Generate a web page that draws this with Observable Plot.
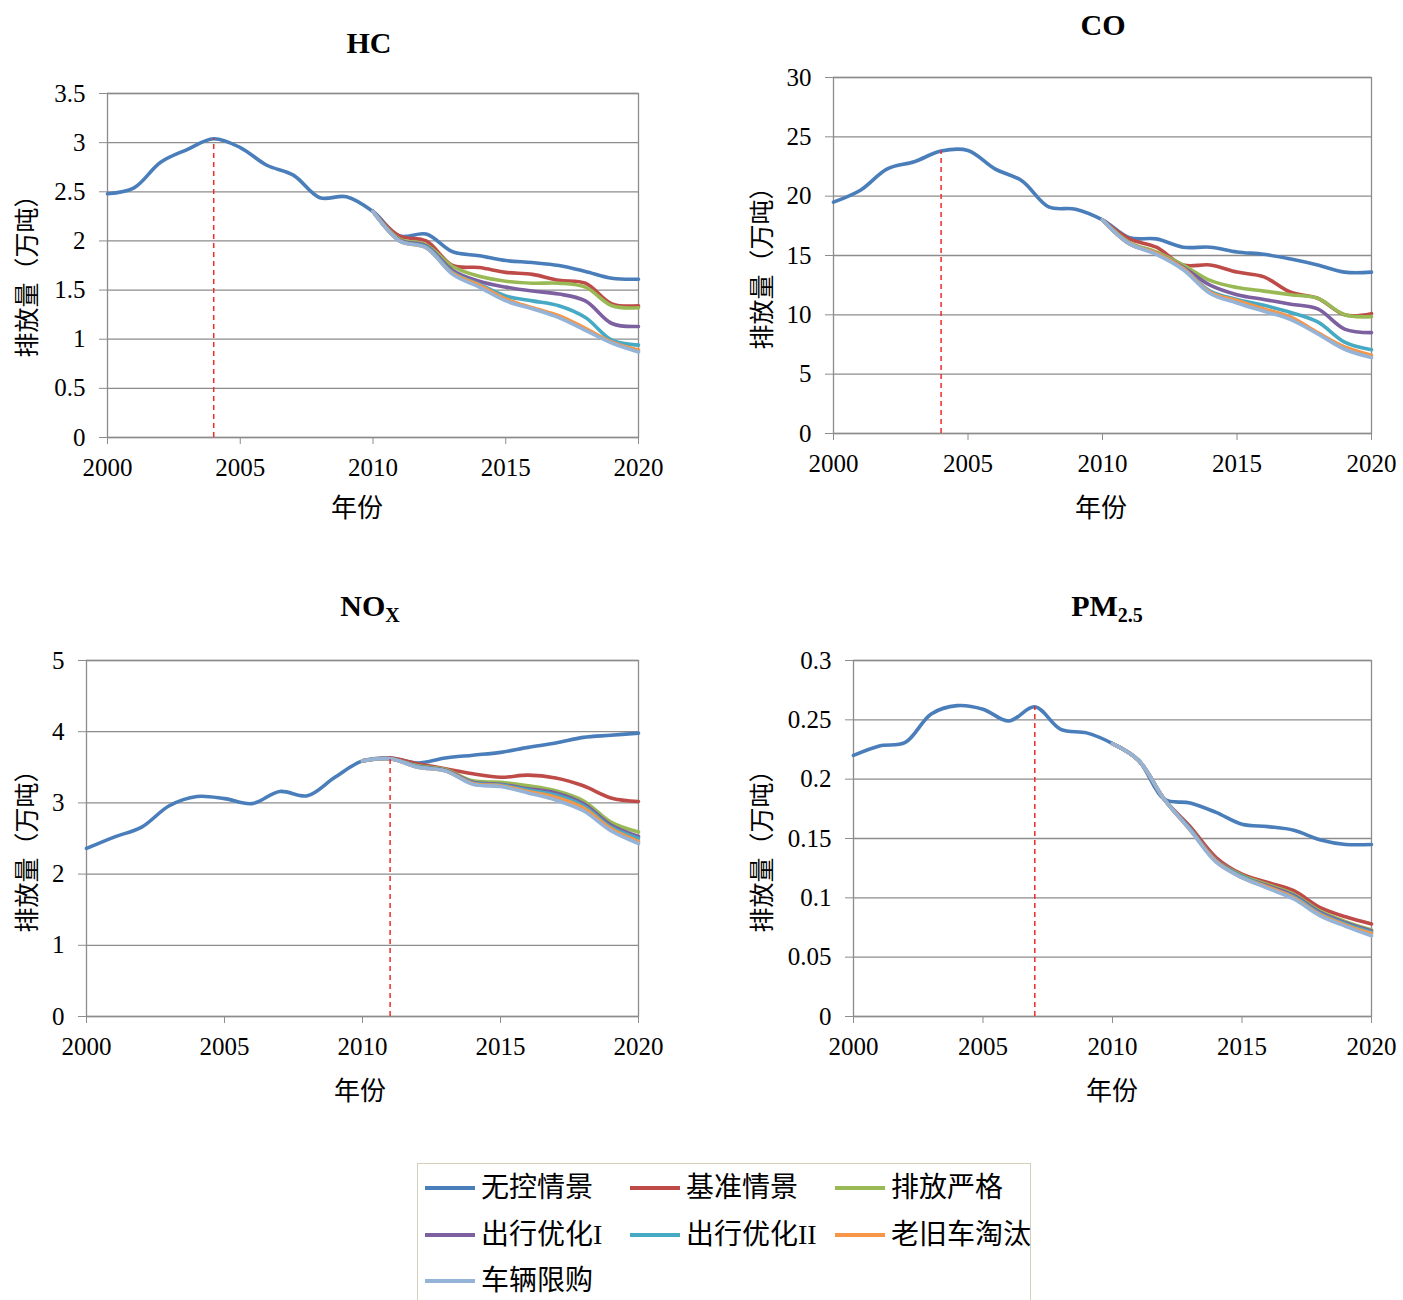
<!DOCTYPE html>
<html>
<head>
<meta charset="utf-8">
<script src="https://cdn.jsdelivr.net/npm/d3@7"></script>
<script src="https://cdn.jsdelivr.net/npm/@observablehq/plot@0.6"></script>
<style>
  html, body { margin: 0; padding: 0; background: #fff; }
  #page { position: relative; width: 1403px; height: 1300px; overflow: hidden; background: #fff;
          font-family: "Liberation Serif", "Times New Roman", "Noto Sans CJK SC", serif; color: #000; }
  .panel { position: absolute; }
  .panel svg text { font-family: "Liberation Serif", "Times New Roman", serif; }
  .title { position: absolute; transform: translate(-50%, -50%); font-weight: bold; font-size: 30px; white-space: nowrap; }
  .title sub { font-size: 20px; vertical-align: -6px; }
  .xlab { position: absolute; transform: translate(-50%, -50%); font-size: 26px; font-family: "Noto Sans CJK SC", sans-serif; white-space: nowrap; }
  .ylab { position: absolute; transform: translate(-50%, -50%) rotate(-90deg); font-size: 25px; font-family: "Noto Sans CJK SC", sans-serif; white-space: nowrap; }
  #legend { position: absolute; left: 417px; top: 1163px; width: 614px; height: 150px; border: 1.5px solid #d4cfb8; box-sizing: border-box; }
  .item { position: absolute; display: flex; align-items: center; font-size: 28px; line-height: 1; white-space: nowrap;
          font-family: "Liberation Serif", "Noto Sans CJK SC", serif; }
  .item span { line-height: 1; }
  .item .sw { width: 50px; height: 3.5px; margin-right: 6px; }
</style>
</head>
<body>
<div id="page"></div>
<script>
// Years on the horizontal axis
const years = d3.range(2000, 2021);
const scenarioYears = d3.range(2010, 2021);

// Scenario names and their line colours
const seriesNames = ["无控情景", "基准情景", "排放严格", "出行优化I", "出行优化II", "老旧车淘汰", "车辆限购"];
const seriesColors = ["#4a7ebb", "#be4b48", "#98b954", "#7d60a0", "#46aac5", "#f79646", "#95b3d7"];

// HC emissions (万吨)
const hcUncontrolled = [2.48, 2.54, 2.80, 2.93, 3.04, 2.95, 2.77, 2.67, 2.44, 2.45, 2.30, 2.05, 2.07, 1.89, 1.85, 1.80, 1.78, 1.75, 1.69, 1.62, 1.61];
const hcBaseline   = [2.30, 2.05, 2.00, 1.75, 1.73, 1.68, 1.66, 1.60, 1.57, 1.36, 1.34];
const hcStrict     = [2.30, 2.02, 1.96, 1.74, 1.64, 1.59, 1.57, 1.57, 1.53, 1.34, 1.32];
const hcTravel1    = [2.30, 2.01, 1.95, 1.70, 1.59, 1.53, 1.49, 1.46, 1.39, 1.16, 1.13];
const hcTravel2    = [2.30, 2.00, 1.94, 1.68, 1.56, 1.44, 1.39, 1.34, 1.22, 0.99, 0.94];
const hcScrappage  = [2.30, 2.00, 1.93, 1.67, 1.55, 1.41, 1.32, 1.24, 1.11, 0.97, 0.89];
const hcPurchase   = [2.30, 2.00, 1.93, 1.66, 1.53, 1.39, 1.31, 1.22, 1.09, 0.96, 0.87];

// CO emissions (万吨)
const coUncontrolled = [19.5, 20.5, 22.3, 22.9, 23.8, 23.85, 22.3, 21.3, 19.1, 18.9, 18.0, 16.5, 16.4, 15.7, 15.7, 15.3, 15.1, 14.7, 14.2, 13.6, 13.6];
const coBaseline   = [18.0, 16.4, 15.7, 14.2, 14.2, 13.6, 13.2, 11.9, 11.4, 10.0, 10.1];
const coStrict     = [18.0, 16.1, 15.3, 14.2, 12.9, 12.3, 12.0, 11.7, 11.4, 10.0, 9.85];
const coTravel1    = [18.0, 16.0, 15.2, 14.0, 12.5, 11.7, 11.3, 10.9, 10.5, 8.8, 8.5];
const coTravel2    = [18.0, 16.0, 15.2, 13.9, 12.0, 11.3, 10.8, 10.2, 9.4, 7.7, 7.05];
const coScrappage  = [18.0, 16.0, 15.2, 13.9, 11.9, 11.2, 10.5, 9.8, 8.5, 7.3, 6.6];
const coPurchase   = [18.0, 16.0, 15.1, 13.8, 11.8, 11.0, 10.3, 9.6, 8.4, 7.1, 6.4];

// NOx emissions (万吨)
const noxUncontrolled = [2.36, 2.52, 2.66, 2.96, 3.09, 3.06, 2.99, 3.16, 3.10, 3.36, 3.59, 3.63, 3.56, 3.63, 3.67, 3.71, 3.78, 3.84, 3.92, 3.95, 3.98];
const noxBaseline  = [3.59, 3.63, 3.55, 3.48, 3.41, 3.36, 3.39, 3.35, 3.24, 3.07, 3.02];
const noxStrict    = [3.59, 3.62, 3.52, 3.47, 3.31, 3.29, 3.24, 3.17, 3.03, 2.73, 2.59];
const noxTravel1   = [3.59, 3.62, 3.51, 3.46, 3.29, 3.26, 3.20, 3.14, 2.99, 2.69, 2.53];
const noxTravel2   = [3.59, 3.62, 3.51, 3.45, 3.28, 3.25, 3.18, 3.11, 2.96, 2.66, 2.50];
const noxScrappage = [3.59, 3.62, 3.50, 3.45, 3.27, 3.24, 3.16, 3.08, 2.93, 2.64, 2.46];
const noxPurchase  = [3.59, 3.62, 3.50, 3.45, 3.26, 3.23, 3.14, 3.04, 2.89, 2.61, 2.43];

// PM2.5 emissions (万吨)
const pmUncontrolled = [0.220, 0.228, 0.231, 0.255, 0.262, 0.259, 0.249, 0.261, 0.242, 0.239, 0.230, 0.216, 0.183, 0.180, 0.172, 0.162, 0.160, 0.157, 0.149, 0.145, 0.145];
const pmBaseline   = [0.230, 0.216, 0.183, 0.160, 0.134, 0.120, 0.113, 0.106, 0.092, 0.084, 0.078];
const pmStrict     = [0.230, 0.216, 0.183, 0.158, 0.132, 0.119, 0.111, 0.103, 0.089, 0.080, 0.073];
const pmTravel1    = [0.230, 0.216, 0.183, 0.158, 0.132, 0.118, 0.110, 0.102, 0.088, 0.079, 0.072];
const pmTravel2    = [0.230, 0.216, 0.183, 0.158, 0.131, 0.118, 0.109, 0.101, 0.087, 0.078, 0.071];
const pmScrappage  = [0.230, 0.216, 0.183, 0.157, 0.131, 0.117, 0.109, 0.100, 0.086, 0.077, 0.070];
const pmPurchase   = [0.230, 0.216, 0.183, 0.157, 0.130, 0.117, 0.108, 0.099, 0.085, 0.076, 0.068];

// Y-axis tick values per pollutant
const hcTicks = [0, 0.5, 1, 1.5, 2, 2.5, 3, 3.5];
const coTicks = [0, 5, 10, 15, 20, 25, 30];
const noxTicks = [0, 1, 2, 3, 4, 5];
const pmTicks = [0, 0.05, 0.1, 0.15, 0.2, 0.25, 0.3];
const xTicks = [2000, 2005, 2010, 2015, 2020];

// Year marked by the dashed red line in each panel
const hcMarkYear = 2004, coMarkYear = 2004, noxMarkYear = 2011, pmMarkYear = 2007;

function buildRows(uncontrolled, scenarios) {
  const rows = years.map((year, i) => ({year, value: uncontrolled[i], series: seriesNames[0]}));
  scenarios.forEach((vals, k) => {
    vals.forEach((v, i) => rows.push({year: scenarioYears[i], value: v, series: seriesNames[k + 1]}));
  });
  return rows;
}

const gridColor = "#8c8c8c";
const serif = "'Liberation Serif', 'Times New Roman', serif";

function panel({rows, uncontrolled, ticks, markYear, width, height, margins}) {
  const top = ticks[ticks.length - 1];
  const mark = [{year: markYear, value: uncontrolled[years.indexOf(markYear)]}];
  return Plot.plot({
    width, height,
    marginLeft: margins[0], marginRight: margins[1], marginTop: margins[2], marginBottom: margins[3],
    style: {fontFamily: serif, fontSize: "25px", background: "transparent", color: "#000", overflow: "visible"},
    x: {domain: [2000, 2020]},
    y: {domain: [0, top]},
    color: {domain: seriesNames, range: seriesColors},
    marks: [
      Plot.gridY(ticks, {stroke: gridColor, strokeOpacity: 1, strokeWidth: 1.3}),
      Plot.frame({stroke: gridColor, strokeWidth: 1.3}),
      Plot.axisY({ticks, tickSize: 8, tickPadding: 14, stroke: gridColor, fontFamily: serif, label: null, tickFormat: d => String(d)}),
      Plot.axisX({ticks: xTicks, tickSize: 7, tickPadding: 14, stroke: gridColor, fontFamily: serif, label: null, tickFormat: d => String(d)}),
      Plot.lineY(rows, {x: "year", y: "value", z: "series", stroke: "series", curve: "catmull-rom", strokeWidth: 3.6, strokeLinejoin: "round", strokeLinecap: "round"}),
      Plot.ruleX(mark, {x: "year", y1: 0, y2: "value", stroke: "#ee2a2a", strokeWidth: 1.5, strokeDasharray: "5,4"})
    ]
  });
}

const page = document.getElementById("page");

function place(el, left, top) {
  const wrap = document.createElement("div");
  wrap.className = "panel";
  wrap.style.left = left + "px";
  wrap.style.top = top + "px";
  wrap.appendChild(el);
  page.appendChild(wrap);
}

function label(cls, html, x, y) {
  const d = document.createElement("div");
  d.className = cls;
  d.innerHTML = html;
  d.style.left = x + "px";
  d.style.top = y + "px";
  page.appendChild(d);
}

// HC
place(panel({
  rows: buildRows(hcUncontrolled, [hcBaseline, hcStrict, hcTravel1, hcTravel2, hcScrappage, hcPurchase]),
  uncontrolled: hcUncontrolled, ticks: hcTicks, markYear: hcMarkYear,
  width: 700, height: 560, margins: [107, 62, 93, 123]
}), 0, 0);
label("title", "HC", 369, 43);
label("ylab", "排放量（万吨）", 25, 270);
label("xlab", "年份", 357, 505);

// CO
place(panel({
  rows: buildRows(coUncontrolled, [coBaseline, coStrict, coTravel1, coTravel2, coScrappage, coPurchase]),
  uncontrolled: coUncontrolled, ticks: coTicks, markYear: coMarkYear,
  width: 703, height: 560, margins: [133, 32, 77, 127]
}), 700, 0);
label("title", "CO", 1103, 25);
label("ylab", "排放量（万吨）", 760, 262);
label("xlab", "年份", 1101, 505);

// NOx
place(panel({
  rows: buildRows(noxUncontrolled, [noxBaseline, noxStrict, noxTravel1, noxTravel2, noxScrappage, noxPurchase]),
  uncontrolled: noxUncontrolled, ticks: noxTicks, markYear: noxMarkYear,
  width: 700, height: 640, margins: [86, 62, 100, 184]
}), 0, 560);
label("title", "NO<sub>X</sub>", 370, 608);
label("ylab", "排放量（万吨）", 25, 845);
label("xlab", "年份", 360, 1088);

// PM2.5
place(panel({
  rows: buildRows(pmUncontrolled, [pmBaseline, pmStrict, pmTravel1, pmTravel2, pmScrappage, pmPurchase]),
  uncontrolled: pmUncontrolled, ticks: pmTicks, markYear: pmMarkYear,
  width: 703, height: 640, margins: [153, 32, 100, 184]
}), 700, 560);
label("title", "PM<sub>2.5</sub>", 1107, 608);
label("ylab", "排放量（万吨）", 760, 845);
label("xlab", "年份", 1112, 1088);

// Legend: three columns of line swatches
const legend = document.createElement("div");
legend.id = "legend";
page.appendChild(legend);
const colX = [7, 212, 417];
const rowY = [24, 71, 117];
seriesNames.forEach((name, i) => {
  const item = document.createElement("div");
  item.className = "item";
  item.style.left = colX[i % 3] + "px";
  item.style.top = (rowY[Math.floor(i / 3)] - 15) + "px";
  item.style.height = "30px";
  const sw = document.createElement("div");
  sw.className = "sw";
  sw.style.background = seriesColors[i];
  item.appendChild(sw);
  const t = document.createElement("span");
  t.textContent = name;
  item.appendChild(t);
  legend.appendChild(item);
});
</script>
</body>
</html>
